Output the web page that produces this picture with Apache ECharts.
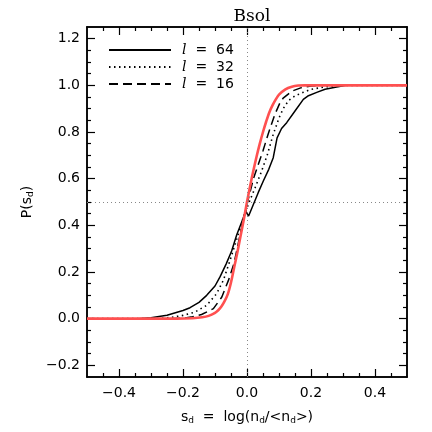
<!DOCTYPE html>
<html>
<head>
<meta charset="utf-8">
<script src="https://cdn.jsdelivr.net/npm/echarts@6/dist/echarts.min.js"></script>
<style>
  html, body { margin: 0; padding: 0; background: #fff; }
  #chart { width: 432px; height: 432px; }
</style>
</head>
<body>
<div id="chart"></div>
<script>
// tick values
const xMajor = [-0.4, -0.2, 0, 0.2, 0.4];
const xMinor = [-0.45, -0.35, -0.3, -0.25, -0.15, -0.1, -0.05, 0.05, 0.1, 0.15, 0.25, 0.3, 0.35, 0.45];
const yMajor = [-0.2, 0, 0.2, 0.4, 0.6, 0.8, 1.0, 1.2];
const yMinor = [-0.15, -0.1, -0.05, 0.05, 0.1, 0.15, 0.25, 0.3, 0.35, 0.45, 0.5, 0.55,
  0.65, 0.7, 0.75, 0.85, 0.9, 0.95, 1.05, 1.1, 1.15];

// cumulative distributions
const l64 = [[-0.5, 0], [-0.34, 0], [-0.3, 0.004], [-0.25, 0.015], [-0.2, 0.035], [-0.178, 0.047],
  [-0.15, 0.07], [-0.126, 0.1], [-0.1, 0.14], [-0.084, 0.18], [-0.065, 0.235], [-0.048, 0.29],
  [-0.032, 0.36], [-0.015, 0.42], [-0.004, 0.46], [0.005, 0.44], [0.017, 0.48], [0.035, 0.54],
  [0.051, 0.59], [0.068, 0.64], [0.082, 0.69], [0.094, 0.775], [0.108, 0.815], [0.124, 0.84],
  [0.15, 0.89], [0.176, 0.94], [0.19, 0.954], [0.218, 0.97], [0.244, 0.983], [0.28, 0.993],
  [0.31, 1.0], [0.5, 1.0]];
const l32 = [[-0.5, 0], [-0.28, 0], [-0.24, 0.005], [-0.2, 0.014], [-0.163, 0.028], [-0.126, 0.057],
  [-0.095, 0.107], [-0.074, 0.164], [-0.053, 0.25], [-0.03, 0.35], [-0.01, 0.44], [0.01, 0.51],
  [0.025, 0.56], [0.045, 0.63], [0.063, 0.7], [0.082, 0.79], [0.1, 0.86], [0.113, 0.9],
  [0.13, 0.935], [0.15, 0.955], [0.176, 0.97], [0.2, 0.983], [0.23, 0.99], [0.27, 0.998],
  [0.3, 1.0], [0.5, 1.0]];
const l16 = [[-0.5, 0], [-0.24, 0], [-0.2, 0.002], [-0.17, 0.008], [-0.142, 0.018], [-0.105, 0.043],
  [-0.079, 0.092], [-0.058, 0.164], [-0.04, 0.24], [-0.02, 0.37], [0, 0.49], [0.02, 0.6],
  [0.04, 0.68], [0.05, 0.72], [0.067, 0.795], [0.087, 0.875], [0.103, 0.925], [0.113, 0.945],
  [0.14, 0.975], [0.17, 0.99], [0.2, 0.997], [0.25, 1.0], [0.5, 1.0]];
const gauss = [[-0.5, 0], [-0.22, 0], [-0.17, 0.002], [-0.14, 0.006], [-0.12, 0.012], [-0.1, 0.025],
  [-0.09, 0.036], [-0.08, 0.052], [-0.07, 0.075], [-0.06, 0.105], [-0.05, 0.155], [-0.04, 0.22],
  [-0.03, 0.285], [-0.02, 0.355], [-0.01, 0.425], [0, 0.5], [0.01, 0.57], [0.02, 0.635],
  [0.03, 0.695], [0.04, 0.75], [0.05, 0.8], [0.06, 0.845], [0.07, 0.885], [0.08, 0.915],
  [0.09, 0.94], [0.1, 0.96], [0.12, 0.983], [0.14, 0.994], [0.16, 0.999], [0.18, 1.0], [0.5, 1.0]];

const font = 'DejaVu Sans';
const minus = v => String(Math.round(v * 10) / 10).replace('-', '\u2212').replace(/^(\u2212?\d+)$/, '$1.0');

function xAx(pos, vals, len, labels) {
  return {
    type: 'value', position: pos, min: -0.5, max: 0.5,
    axisLine: { show: true, onZero: false, lineStyle: { color: '#000', width: 1.5 } },
    axisTick: { show: true, inside: true, length: len, customValues: vals, lineStyle: { color: '#000', width: 1.2 } },
    axisLabel: { show: labels, customValues: vals, margin: 9, color: '#000', fontFamily: font, fontSize: 14, formatter: minus },
    splitLine: { show: false }
  };
}
function yAx(pos, vals, len, labels) {
  return {
    type: 'value', position: pos, min: -0.25, max: 1.25,
    axisLine: { show: true, onZero: false, lineStyle: { color: '#000', width: 1.5 } },
    axisTick: { show: true, inside: true, length: len, customValues: vals, lineStyle: { color: '#000', width: 1.2 } },
    axisLabel: { show: labels, customValues: vals, margin: 7, color: '#000', fontFamily: font, fontSize: 14, formatter: minus },
    splitLine: { show: false }
  };
}

const subRich = {
  t: { fontFamily: font, fontSize: 14, color: '#000' },
  s: { fontFamily: font, fontSize: 9, color: '#000', verticalAlign: 'bottom', padding: [6, 0, 0, 0] }
};
const xs = [xAx('bottom', xMajor, 8, true), xAx('top', xMajor, 8, false),
  xAx('bottom', xMinor, 4, false), xAx('top', xMinor, 4, false)];
xs[0].name = '{t|s}{s|d}{t|  =  log(n}{s|d}{t|/<n}{s|d}{t|>)}';
xs[0].nameLocation = 'middle';
xs[0].nameGap = 33;
xs[0].nameTextStyle = { rich: subRich };
const ys = [yAx('left', yMajor, 8, true), yAx('right', yMajor, 8, false),
  yAx('left', yMinor, 4, false), yAx('right', yMinor, 4, false)];
ys[0].name = '{t|P(s}{s|d}{t|)}';
ys[0].nameLocation = 'middle';
ys[0].nameGap = 48;
ys[0].nameTextStyle = { rich: subRich };

const chart = echarts.init(document.getElementById('chart'));
chart.setOption({
  animation: false,
  backgroundColor: '#fff',
  title: {
    text: 'Bsol', left: 247, top: 3, textAlign: 'center',
    textStyle: { fontFamily: 'DejaVu Serif', fontSize: 17, fontWeight: 'normal', color: '#000' }
  },
  grid: { left: 87, right: 25, top: 27, bottom: 55 },
  legend: {
    orient: 'vertical', left: 103, top: 38,
    itemWidth: 62, itemHeight: 14, itemGap: 3,
    data: ['64', '32', '16'],
    itemStyle: { color: 'rgba(0,0,0,0)', borderWidth: 0, opacity: 0 },
    formatter: n => '{i|l}  =  ' + n,
    textStyle: {
      fontFamily: font, fontSize: 14, color: '#000',
      rich: { i: { fontFamily: 'DejaVu Serif', fontStyle: 'italic', fontSize: 14, color: '#000', padding: [0, 0, 0, 6] } }
    }
  },
  xAxis: xs,
  yAxis: ys,
  series: [
    {
      name: '64', type: 'line', data: l64, showSymbol: false, symbol: 'none',
      lineStyle: { color: '#000', width: 1.5, type: 'solid' },
      markLine: {
        silent: true, symbol: 'none', label: { show: false },
        lineStyle: { color: '#888', width: 1, type: [1, 3] },
        data: [{ xAxis: 0 }, { yAxis: 0.5 }]
      }
    },
    {
      name: '32', type: 'line', data: l32, showSymbol: false, symbol: 'none',
      lineStyle: { color: '#000', width: 1.6, type: [1.5, 3.5] }
    },
    {
      name: '16', type: 'line', data: l16, showSymbol: false, symbol: 'none',
      lineStyle: { color: '#000', width: 1.5, type: [9, 5] }
    },
    {
      name: 'gauss', type: 'line', data: gauss, showSymbol: false, symbol: 'none', smooth: 0.3,
      lineStyle: { color: '#ff5050', width: 2.6 }
    }
  ]
});
</script>
</body>
</html>
